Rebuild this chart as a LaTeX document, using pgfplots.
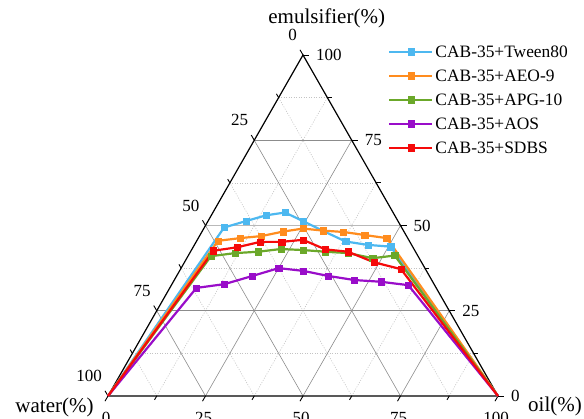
\documentclass[border=0pt]{standalone}
\usepackage{fontspec}
\setmainfont{Liberation Serif}
\usepackage{pgfplots}
\pgfplotsset{compat=1.18}
\usepackage{pgfplotstable}

\definecolor{cBlue}{RGB}{77,184,240}
\definecolor{cOrange}{RGB}{255,140,30}
\definecolor{cGreen}{RGB}{107,168,42}
\definecolor{cPurple}{RGB}{153,13,201}
\definecolor{cRed}{RGB}{245,10,10}
\definecolor{gridmajor}{RGB}{140,140,140}
\definecolor{gridfifty}{RGB}{185,185,185}
\definecolor{gridminor}{RGB}{195,195,195}

\newcommand\tickfont{\fontsize{17}{17}\selectfont}
\newcommand\legfont{\fontsize{17.4}{17.4}\selectfont}
\newcommand\titlefont{\fontsize{21}{21}\selectfont}

% columns: water, oil, emulsifier (%)
\pgfplotstableread{
water oil emul
100 0 0
45.54 5.06 49.4
38.96 9.74 51.3
32.90 14.10 53.0
27.72 18.48 53.8
24.35 24.35 51.3
20.64 30.96 48.4
16.41 38.29 45.3
11.14 44.56 44.3
5.62 50.58 43.8
0 100 0
}\tween
\pgfplotstableread{
water oil emul
100 0 0
49.05 5.45 45.5
42.96 10.74 46.3
37.17 15.93 46.9
31.08 20.72 48.2
25.45 25.45 49.1
20.60 30.90 48.5
15.57 36.33 48.1
10.56 42.24 47.2
5.37 48.33 46.3
0 100 0
}\aeo
\pgfplotstableread{
water oil emul
100 0 0
53.10 5.90 41.0
46.48 11.62 41.9
40.39 17.31 42.3
34.14 22.76 43.1
28.60 28.60 42.8
23.08 34.62 42.3
17.43 40.67 41.9
11.92 47.68 40.4
5.88 52.92 41.2
0 100 0
}\apg
\pgfplotstableread{
water oil emul
100 0 0
61.47 6.83 31.7
53.76 13.44 32.8
45.36 19.44 35.2
37.50 25.00 37.5
31.65 31.65 36.7
25.92 38.88 35.2
19.80 46.20 34.0
13.30 53.20 33.5
6.75 60.75 32.5
0 100 0
}\aos
\pgfplotstableread{
water oil emul
100 0 0
51.66 5.74 42.6
45.12 11.28 43.6
38.36 16.44 45.2
32.88 21.92 45.2
27.10 27.10 45.8
22.80 34.20 43.0
17.31 40.39 42.3
12.16 48.64 39.2
6.28 56.52 37.2
0 100 0
}\sdbs

\begin{document}
\begin{tikzpicture}
\begin{axis}[
  at={(108pt,23pt)}, anchor=south west,
  scale only axis, width=390pt, height=341pt,
  xmin=0, xmax=100, ymin=0, ymax=100,
  axis lines=none, ticks=none, clip=false,
  legend style={at={(0.7187,1.033)}, anchor=north west, draw=none, fill=none,
    inner sep=0pt, outer sep=0pt, row sep=8pt, column sep=0pt,
    font=\legfont, nodes={inner sep=2pt, text height=12pt, text depth=0pt}},
  legend cell align=left,
  legend image code/.code={\draw[mark indices={2}] plot coordinates {(0pt,0pt)(21.5pt,0pt)(43pt,0pt)};},
  every axis plot/.append style={line width=2.2pt, mark=square*, mark size=3.1pt,
    mark options={solid, line width=0.4pt}},
]
% minor grid
\pgfplotsinvokeforeach{12.5,37.5,62.5,87.5}{
  \draw[gridminor, line width=0.6pt, dash pattern=on 1pt off 1.5pt] (axis cs:{#1/2},#1) -- (axis cs:{100-#1/2},#1);
  \draw[gridminor, line width=0.6pt, dash pattern=on 1pt off 1.5pt] (axis cs:#1,0) -- (axis cs:{50+#1/2},{100-#1});
  \draw[gridminor, line width=0.6pt, dash pattern=on 1pt off 1.5pt] (axis cs:{100-#1},0) -- (axis cs:{(100-#1)/2},{100-#1});
}
% major grid
\pgfplotsinvokeforeach{25,50,75}{
  \draw[gridmajor, line width=0.6pt] (axis cs:#1,0) -- (axis cs:{50+#1/2},{100-#1});
  \draw[gridmajor, line width=0.6pt] (axis cs:{100-#1},0) -- (axis cs:{(100-#1)/2},{100-#1});
}
\pgfplotsinvokeforeach{25,75}{
  \draw[gridmajor, line width=0.6pt] (axis cs:{#1/2},#1) -- (axis cs:{100-#1/2},#1);
}
\draw[gridfifty, line width=1.6pt] (axis cs:25,50) -- (axis cs:75,50);
% ticks
\pgfplotsinvokeforeach{0,25,50,75,100}{
  \draw[black, line width=0.9pt] (axis cs:#1,0) -- ++(-3pt,-5.2pt);
  \draw[black, line width=0.9pt] (axis cs:{100-#1/2},#1) -- ++(6pt,0pt);
  \draw[black, line width=0.9pt] (axis cs:{(100-#1)/2},{100-#1}) -- ++(-3pt,5.2pt);
  \node[anchor=north, inner sep=0pt, font=\tickfont] at ([xshift=-2pt,yshift=-16pt]axis cs:#1,0) {#1};
  \node[anchor=west, inner sep=0pt, font=\tickfont] at ([xshift=13pt]axis cs:{100-#1/2},#1) {#1};
  \node[anchor=east, inner sep=0pt, font=\tickfont] at ([xshift=-6pt,yshift=20pt]axis cs:{(100-#1)/2},{100-#1}) {#1};
}
\pgfplotsinvokeforeach{12.5,37.5,62.5,87.5}{
  \draw[black, line width=0.9pt] (axis cs:#1,0) -- ++(-2.2pt,-3.8pt);
  \draw[black, line width=0.9pt] (axis cs:{100-#1/2},#1) -- ++(4.4pt,0pt);
  \draw[black, line width=0.9pt] (axis cs:{(100-#1)/2},{100-#1}) -- ++(-2.2pt,3.8pt);
}
% triangle
\draw[black, line width=1.2pt, line join=miter] (axis cs:0,0) -- (axis cs:100,0) -- (axis cs:50,100) -- cycle;

\addplot[color=cBlue, mark indices={2,3,4,5,6,7,8,9,10}]
  table[x expr=\thisrow{oil}+0.5*\thisrow{emul}, y=emul] {\tween};
\addlegendentry{CAB-35+Tween80}
\addplot[color=cOrange, mark indices={2,3,4,5,6,7,8,9,10}]
  table[x expr=\thisrow{oil}+0.5*\thisrow{emul}, y=emul] {\aeo};
\addlegendentry{CAB-35+AEO-9}
\addplot[color=cGreen, mark indices={2,3,4,5,6,7,8,9,10}]
  table[x expr=\thisrow{oil}+0.5*\thisrow{emul}, y=emul] {\apg};
\addlegendentry{CAB-35+APG-10}
\addplot[color=cPurple, mark indices={2,3,4,5,6,7,8,9,10}]
  table[x expr=\thisrow{oil}+0.5*\thisrow{emul}, y=emul] {\aos};
\addlegendentry{CAB-35+AOS}
\addplot[color=cRed, mark indices={2,3,4,5,6,7,8,9,10}]
  table[x expr=\thisrow{oil}+0.5*\thisrow{emul}, y=emul] {\sdbs};
\addlegendentry{CAB-35+SDBS}
\end{axis}
\node[font=\titlefont] at (326.7pt,401pt) {emulsifier(\%)};
\node[font=\titlefont] at (54.5pt,12pt) {water(\%)};
\node[font=\titlefont] at (555pt,13pt) {oil(\%)};
\pgfresetboundingbox
\path[use as bounding box] (0,0) rectangle (584pt,419pt);
\end{tikzpicture}
\end{document}
